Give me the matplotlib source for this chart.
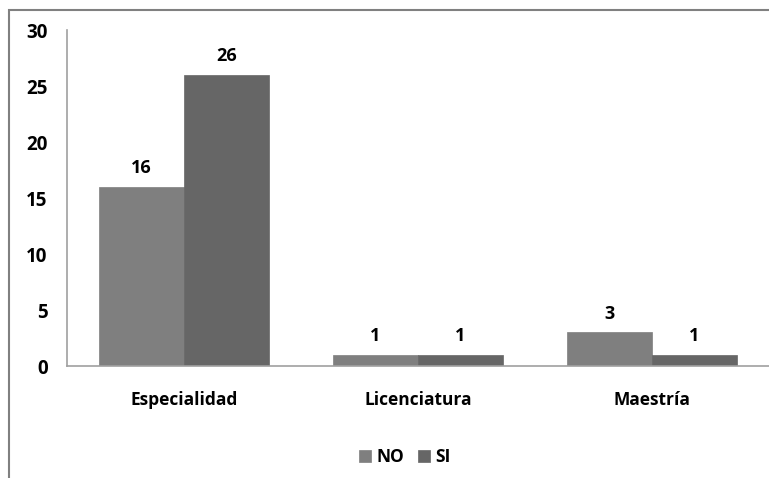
import matplotlib
matplotlib.use("Agg")
import matplotlib.pyplot as plt
import numpy as np
from matplotlib.patches import Rectangle

categories = ["Especialidad", "Licenciatura", "Maestría"]
series_names = ["NO", "SI"]
no_values = [16, 1, 3]
si_values = [26, 1, 1]
yticks = [0, 5, 10, 15, 20, 25, 30]

colors = ["#7f7f7f", "#666666"]
W, H = 769, 478
fig = plt.figure(figsize=(W/100, H/100), dpi=100)
plt.rcParams['font.family'] = ['Open Sans', 'DejaVu Sans']

ax = fig.add_axes([67/W, 112/H, (W-67)/W, (366-30)/H])
x = np.arange(len(categories))
bw = 85/234
for i, (vals, name) in enumerate(zip([no_values, si_values], series_names)):
    pos = x + (i - 0.5) * bw
    ax.bar(pos, vals, width=bw, color=colors[i], label=name, edgecolor=colors[i], linewidth=0.5)
    for p, v in zip(pos, vals):
        ax.annotate(str(v), (p, v), xytext=(0, 7), textcoords="offset points",
                    ha="center", va="bottom", fontsize=13, fontweight="bold", color="black")

ax.set_xlim(-0.5, len(categories) - 0.5)
ax.set_ylim(0, 30)
ax.set_yticks(yticks)
ax.set_yticklabels([str(t) for t in yticks], fontsize=13.5, fontweight="bold")
ax.set_xticks(x)
ax.set_xticklabels(categories, fontsize=12.5, fontweight="bold")
ax.tick_params(axis="y", length=0, pad=14)
ax.tick_params(axis="x", length=0, pad=18)
for s in ["top", "right"]:
    ax.spines[s].set_visible(False)
ax.spines["left"].set_color("#a0a0a0")
ax.spines["bottom"].set_color("#a0a0a0")
ax.spines["left"].set_linewidth(1.2)
ax.spines["bottom"].set_linewidth(1.2)

fig.legend(loc="center", bbox_to_anchor=(405/W, 1 - 457/H), ncol=2, frameon=False,
           prop={"size": 12.5, "weight": "bold"}, handlelength=0.7, handleheight=0.7,
           handletextpad=0.3, columnspacing=0.8)

fig.patches.append(Rectangle((9/W, -0.05), 1.2, 1 - 10/H + 0.05, transform=fig.transFigure,
                             fill=False, edgecolor="#808080", linewidth=1.5))
fig.savefig("out.png", dpi=100)
